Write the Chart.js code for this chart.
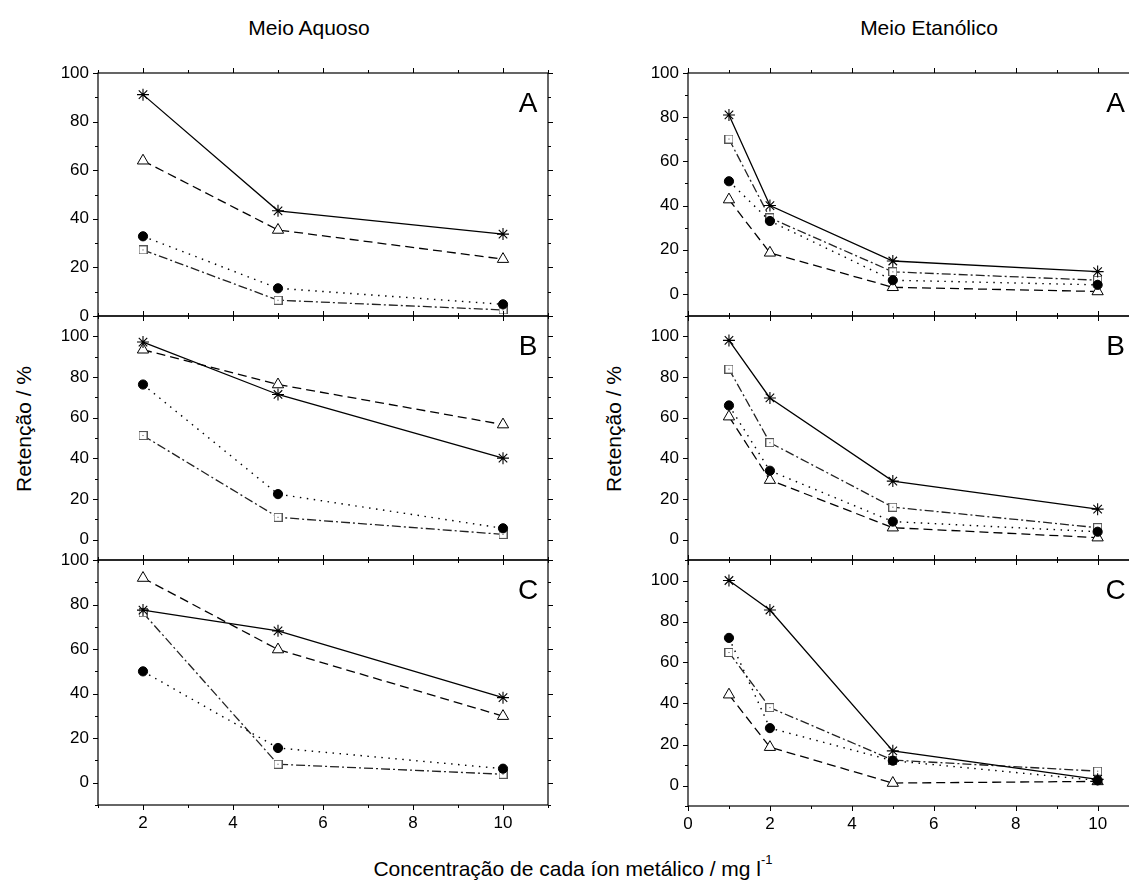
<!DOCTYPE html>
<html>
<head>
<meta charset="utf-8">
<script src="https://cdn.jsdelivr.net/npm/chart.js@4.4.1/dist/chart.umd.min.js"></script>
<style>
html,body{margin:0;padding:0;width:1129px;height:891px;overflow:hidden;background:#fff;}
#wrap{position:relative;width:1129px;height:891px;overflow:hidden;font-family:"Liberation Sans",Arial,sans-serif;color:#000;}
#wrap canvas{position:absolute;}
.t{position:absolute;white-space:nowrap;transform:translate(-50%,-50%);line-height:1;}
.rot{transform:translate(-50%,-50%) rotate(-90deg);}
sup{font-size:13px;vertical-align:top;position:relative;top:-5px;}
</style>
</head>
<body>
<div id="wrap">
  <div class="t" style="left:309px;top:27px;font-size:21px;">Meio Aquoso</div>
  <div class="t" style="left:929px;top:27px;font-size:21px;">Meio Etanólico</div>
  <div class="t rot" style="left:23px;top:429px;font-size:21px;">Retenção / %</div>
  <div class="t rot" style="left:613px;top:429px;font-size:21px;">Retenção / %</div>
  <div class="t" style="left:573px;top:868px;font-size:21px;">Concentração de cada íon metálico / mg l<sup>-1</sup></div>
</div>
<script>
// ---------- data ----------
const xAquoso = [2, 5, 10];
const xEtanolico = [1, 2, 5, 10];
const xTicksAquoso = [2, 4, 6, 8, 10];
const xTicksEtanolico = [0, 2, 4, 6, 8, 10];
const yTicks = [0, 20, 40, 60, 80, 100];
const panelLetters = ['A', 'B', 'C'];

// Meio Aquoso
const aqA_asterisco = [91.1, 43.3, 33.7];
const aqA_triangulo = [63.9, 35.4, 23.4];
const aqA_circulo   = [32.8, 11.4, 4.8];
const aqA_quadrado  = [27.2, 6.5, 2.5];

const aqB_asterisco = [97.2, 71.4, 40.1];
const aqB_triangulo = [93.4, 76.3, 56.6];
const aqB_circulo   = [76.3, 22.4, 5.6];
const aqB_quadrado  = [51.2, 11.0, 2.6];

const aqC_asterisco = [77.5, 68.2, 38.2];
const aqC_triangulo = [91.9, 59.8, 29.9];
const aqC_circulo   = [50.0, 15.6, 6.3];
const aqC_quadrado  = [76.3, 8.3, 3.8];

// Meio Etanólico
const etA_asterisco = [81.0, 40.0, 14.9, 10.1];
const etA_triangulo = [42.7, 18.6, 3.0, 1.1];
const etA_circulo   = [51.0, 33.0, 6.2, 4.1];
const etA_quadrado  = [70.1, 34.4, 10.0, 6.2];

const etB_asterisco = [98.0, 69.7, 28.8, 15.0];
const etB_triangulo = [60.5, 29.3, 5.9, 1.0];
const etB_circulo   = [66.0, 33.9, 8.9, 3.9];
const etB_quadrado  = [83.9, 47.7, 16.0, 5.9];

const etC_asterisco = [100.0, 85.6, 16.9, 3.0];
const etC_triangulo = [44.3, 18.7, 1.2, 2.0];
const etC_circulo   = [72.0, 28.0, 12.1, 2.5];
const etC_quadrado  = [64.9, 38.0, 12.4, 7.0];

// ---------- styling ----------
const FONT = '"Liberation Sans", Arial, sans-serif';

function squareDot() {
  const c = document.createElement('canvas');
  c.width = 9; c.height = 9;
  const g = c.getContext('2d');
  g.fillStyle = '#fff'; g.fillRect(0, 0, 9, 9);
  g.strokeStyle = '#555'; g.lineWidth = 1;
  g.strokeRect(0.5, 0.5, 8, 8);
  g.fillStyle = '#444'; g.fillRect(4, 4, 1, 1);
  return c;
}
const SQ = squareDot();

function pts(xs, ys) { return xs.map((x, i) => ({x: x, y: ys[i]})); }

function datasets(xs, s) {
  return [
    {data: pts(xs, s.ast), borderColor: '#000', borderWidth: 1.3, pointStyle: 'star', pointRadius: 6,
     pointBorderColor: '#000', pointBorderWidth: 1.1, pointBackgroundColor: '#000'},
    {data: pts(xs, s.cir), borderColor: '#000', borderWidth: 1.4, borderDash: [1.5, 5.5], pointStyle: 'circle', pointRadius: 4.6,
     pointBorderColor: '#000', pointBackgroundColor: '#000', pointBorderWidth: 1},
    {data: pts(xs, s.tri), borderColor: '#000', borderWidth: 1.3, borderDash: [9, 5], pointStyle: 'triangle', pointRadius: 6.5,
     pointBorderColor: '#000', pointBackgroundColor: '#fff', pointBorderWidth: 1},
    {data: pts(xs, s.sq), borderColor: '#222', borderWidth: 1.3, borderDash: [9, 3, 2, 3], pointStyle: SQ, pointRadius: 4.5}
  ];
}

const framePlugin = {
  id: 'frame',
  beforeDatasetsDraw(chart, args, opts) {
    const ctx = chart.ctx, a = chart.chartArea, x = chart.scales.x, y = chart.scales.y;
    ctx.save();
    ctx.strokeStyle = '#000';
    ctx.lineWidth = 1.2;
    ctx.strokeRect(a.left, a.top, a.right - a.left, a.bottom - a.top);
    ctx.lineWidth = 1;
    const seg = (x1, y1, x2, y2) => { ctx.beginPath(); ctx.moveTo(x1, y1); ctx.lineTo(x2, y2); ctx.stroke(); };
    for (let v = Math.ceil(x.min); v <= x.max + 1e-9; v++) {
      const px = Math.round(x.getPixelForValue(v)) + 0.5;
      const len = (v % 2 === 0) ? 5 : 3;
      seg(px, a.bottom, px, a.bottom + len);
      seg(px, a.top, px, a.top - len);
    }
    for (let v = Math.ceil(y.min / 10) * 10; v <= y.max + 1e-9; v += 10) {
      const py = Math.round(y.getPixelForValue(v)) + 0.5;
      const len = (v % 20 === 0) ? 5 : 3;
      seg(a.left - len, py, a.left, py);
      seg(a.right, py, a.right + len, py);
    }
    ctx.font = '28px ' + FONT;
    ctx.textAlign = 'center';
    ctx.textBaseline = 'middle';
    ctx.fillStyle = '#000';
    ctx.fillText(opts.letter, a.right - opts.letterDx, a.top + 31);
    ctx.restore();
  }
};

const wrap = document.getElementById('wrap');

function makePanel(p) {
  const YW = 50, PT = 22, PR = 14;
  const XH = p.showX ? 36 : 0;
  const PB = p.showX ? 2 : 22;
  const aw = Math.ceil(p.right - p.left);
  const w = aw + YW + PR;
  const h = (p.bottom - p.top) + PT + XH + PB;
  const cv = document.createElement('canvas');
  cv.width = w; cv.height = h;
  cv.style.width = w + 'px'; cv.style.height = h + 'px';
  cv.style.left = (p.left - YW) + 'px';
  cv.style.top = (p.top - PT) + 'px';
  wrap.appendChild(cv);
  const tickFont = {family: FONT, size: 17};
  new Chart(cv, {
    type: 'line',
    data: {datasets: datasets(p.xs, p.series)},
    options: {
      responsive: false, animation: false, devicePixelRatio: 1,
      layout: {padding: {left: 0, top: PT, right: PR + (aw - (p.right - p.left)), bottom: PB}},
      plugins: {legend: {display: false}, tooltip: {enabled: false}, frame: {letter: p.letter, letterDx: p.letterDx}},
      scales: {
        x: {
          type: 'linear', min: p.xMin, max: p.xMax, display: p.showX,
          afterBuildTicks: s => { s.ticks = p.xTicks.map(v => ({value: v})); },
          afterFit: s => { s.height = XH; },
          grid: {display: false, drawTicks: true, tickLength: 5},
          border: {display: false},
          ticks: {font: tickFont, color: '#000', padding: 3, maxRotation: 0, autoSkip: false}
        },
        y: {
          type: 'linear', min: p.yMin, max: p.yMax,
          afterBuildTicks: s => { s.ticks = yTicks.map(v => ({value: v})); },
          afterFit: s => { s.width = YW; },
          grid: {display: false, drawTicks: true, tickLength: 5},
          border: {display: false},
          ticks: {font: tickFont, color: '#000', padding: 4, autoSkip: false}
        }
      }
    },
    plugins: [framePlugin]
  });
}

const L = {left: 98, right: 548, letterDx: 20};
const R = {left: 688, right: 1138.6, letterDx: 23};

makePanel({...L, top: 73, bottom: 316, yMin: 0, yMax: 100, xMin: 1, xMax: 11, xs: xAquoso, xTicks: xTicksAquoso, showX: false, letter: panelLetters[0],
  series: {ast: aqA_asterisco, tri: aqA_triangulo, cir: aqA_circulo, sq: aqA_quadrado}});
makePanel({...L, top: 316, bottom: 560, yMin: -10, yMax: 110, xMin: 1, xMax: 11, xs: xAquoso, xTicks: xTicksAquoso, showX: false, letter: panelLetters[1],
  series: {ast: aqB_asterisco, tri: aqB_triangulo, cir: aqB_circulo, sq: aqB_quadrado}});
makePanel({...L, top: 560, bottom: 805, yMin: -10, yMax: 100, xMin: 1, xMax: 11, xs: xAquoso, xTicks: xTicksAquoso, showX: true, letter: panelLetters[2],
  series: {ast: aqC_asterisco, tri: aqC_triangulo, cir: aqC_circulo, sq: aqC_quadrado}});

makePanel({...R, top: 73, bottom: 316, yMin: -10, yMax: 100, xMin: 0, xMax: 11, xs: xEtanolico, xTicks: xTicksEtanolico, showX: false, letter: panelLetters[0],
  series: {ast: etA_asterisco, tri: etA_triangulo, cir: etA_circulo, sq: etA_quadrado}});
makePanel({...R, top: 316, bottom: 560, yMin: -10, yMax: 110, xMin: 0, xMax: 11, xs: xEtanolico, xTicks: xTicksEtanolico, showX: false, letter: panelLetters[1],
  series: {ast: etB_asterisco, tri: etB_triangulo, cir: etB_circulo, sq: etB_quadrado}});
makePanel({...R, top: 560, bottom: 806, yMin: -10, yMax: 110, xMin: 0, xMax: 11, xs: xEtanolico, xTicks: xTicksEtanolico, showX: true, letter: panelLetters[2],
  series: {ast: etC_asterisco, tri: etC_triangulo, cir: etC_circulo, sq: etC_quadrado}});
</script>
</body>
</html>
